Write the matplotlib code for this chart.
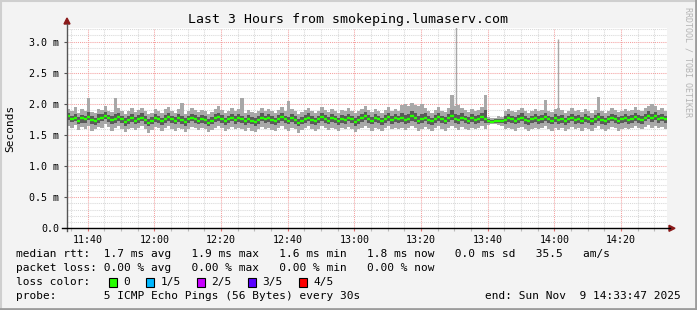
import numpy as np
import matplotlib
matplotlib.use("Agg")
import matplotlib.pyplot as plt
from matplotlib.patches import Rectangle, Polygon
from matplotlib.lines import Line2D

# smokeping data: 5 sorted pings per 1 min step, values in ms
median = [
    1.80, 1.76, 1.78, 1.73, 1.77, 1.75, 1.79, 1.74, 1.72, 1.76,
    1.78, 1.81, 1.77, 1.74, 1.76, 1.79, 1.75, 1.71, 1.74, 1.77,
    1.73, 1.76, 1.78, 1.74, 1.70, 1.73, 1.77, 1.75, 1.72, 1.76,
    1.79, 1.75, 1.73, 1.77, 1.74, 1.71, 1.75, 1.78, 1.76, 1.73,
    1.76, 1.74, 1.70, 1.73, 1.77, 1.79, 1.76, 1.72, 1.75, 1.78,
    1.74, 1.77, 1.75, 1.72, 1.76, 1.73, 1.71, 1.74, 1.78, 1.75,
    1.77, 1.74, 1.72, 1.76, 1.79, 1.75, 1.73, 1.77, 1.74, 1.70,
    1.73, 1.76, 1.78, 1.74, 1.72, 1.75, 1.79, 1.76, 1.73, 1.77,
    1.75, 1.72, 1.76, 1.74, 1.78, 1.75, 1.71, 1.74, 1.77, 1.80,
    1.76, 1.73, 1.77, 1.75, 1.72, 1.76, 1.79, 1.74, 1.77, 1.75,
    1.78, 1.74, 1.76, 1.80, 1.77, 1.73, 1.75, 1.78, 1.74, 1.72,
    1.76, 1.79, 1.75, 1.73, 1.77, 1.80, 1.76, 1.74, 1.78, 1.75,
    1.73, 1.77, 1.74, 1.76, 1.79, 1.75, 1.72, 1.71, 1.72, 1.73,
    1.72, 1.74, 1.77, 1.75, 1.73, 1.76, 1.78, 1.74, 1.72, 1.75,
    1.77, 1.74, 1.76, 1.79, 1.75, 1.73, 1.77, 1.74, 1.76, 1.72,
    1.75, 1.78, 1.74, 1.76, 1.73, 1.77, 1.75, 1.72, 1.76, 1.79,
    1.74, 1.72, 1.75, 1.78, 1.76, 1.73, 1.75, 1.77, 1.74, 1.76,
    1.79, 1.76, 1.74, 1.78, 1.81, 1.77, 1.80, 1.76, 1.78, 1.75]
ping2 = [
    1.74, 1.71, 1.73, 1.68, 1.70, 1.69, 1.74, 1.67, 1.66, 1.70,
    1.72, 1.75, 1.71, 1.68, 1.70, 1.73, 1.69, 1.65, 1.68, 1.71,
    1.67, 1.70, 1.72, 1.68, 1.64, 1.67, 1.71, 1.69, 1.66, 1.70,
    1.73, 1.69, 1.67, 1.71, 1.68, 1.65, 1.69, 1.72, 1.70, 1.67,
    1.70, 1.68, 1.64, 1.67, 1.71, 1.73, 1.70, 1.66, 1.69, 1.72,
    1.68, 1.71, 1.69, 1.66, 1.70, 1.67, 1.65, 1.68, 1.72, 1.69,
    1.71, 1.68, 1.66, 1.70, 1.73, 1.69, 1.67, 1.71, 1.68, 1.64,
    1.67, 1.70, 1.72, 1.68, 1.66, 1.69, 1.73, 1.70, 1.67, 1.71,
    1.69, 1.66, 1.70, 1.68, 1.72, 1.69, 1.65, 1.68, 1.71, 1.74,
    1.70, 1.67, 1.71, 1.69, 1.66, 1.70, 1.73, 1.68, 1.71, 1.69,
    1.71, 1.68, 1.70, 1.73, 1.71, 1.67, 1.69, 1.72, 1.68, 1.66,
    1.70, 1.73, 1.69, 1.67, 1.71, 1.74, 1.70, 1.68, 1.72, 1.69,
    1.67, 1.71, 1.68, 1.70, 1.73, 1.69, 1.69, 1.69, 1.70, 1.70,
    1.69, 1.68, 1.71, 1.69, 1.67, 1.70, 1.72, 1.68, 1.66, 1.69,
    1.71, 1.68, 1.70, 1.73, 1.69, 1.67, 1.71, 1.68, 1.70, 1.66,
    1.69, 1.72, 1.68, 1.70, 1.67, 1.71, 1.69, 1.66, 1.70, 1.73,
    1.68, 1.66, 1.69, 1.72, 1.70, 1.67, 1.69, 1.71, 1.68, 1.70,
    1.73, 1.70, 1.68, 1.72, 1.75, 1.71, 1.74, 1.70, 1.72, 1.69]
ping4 = [
    1.86, 1.81, 1.84, 1.79, 1.82, 1.80, 1.87, 1.80, 1.78, 1.83,
    1.84, 1.87, 1.82, 1.80, 1.83, 1.85, 1.81, 1.77, 1.80, 1.84,
    1.79, 1.82, 1.85, 1.80, 1.76, 1.79, 1.83, 1.81, 1.78, 1.82,
    1.85, 1.81, 1.79, 1.83, 1.80, 1.77, 1.81, 1.84, 1.82, 1.79,
    1.82, 1.80, 1.76, 1.79, 1.83, 1.86, 1.82, 1.78, 1.81, 1.84,
    1.80, 1.83, 1.81, 1.78, 1.82, 1.79, 1.77, 1.80, 1.85, 1.81,
    1.83, 1.80, 1.78, 1.82, 1.86, 1.81, 1.79, 1.83, 1.80, 1.76,
    1.79, 1.82, 1.85, 1.80, 1.78, 1.81, 1.86, 1.82, 1.79, 1.83,
    1.81, 1.78, 1.82, 1.80, 1.84, 1.81, 1.77, 1.80, 1.83, 1.87,
    1.82, 1.79, 1.83, 1.81, 1.78, 1.82, 1.86, 1.80, 1.83, 1.81,
    1.86, 1.82, 1.84, 1.88, 1.85, 1.80, 1.83, 1.86, 1.80, 1.78,
    1.82, 1.86, 1.81, 1.79, 1.84, 1.90, 1.83, 1.82, 1.85, 1.81,
    1.79, 1.83, 1.80, 1.82, 1.86, 1.90, 1.75, 1.74, 1.75, 1.76,
    1.76, 1.80, 1.83, 1.81, 1.79, 1.82, 1.85, 1.80, 1.78, 1.81,
    1.83, 1.80, 1.82, 1.86, 1.81, 1.79, 1.83, 1.81, 1.82, 1.78,
    1.81, 1.84, 1.80, 1.82, 1.79, 1.83, 1.81, 1.78, 1.82, 1.86,
    1.80, 1.78, 1.81, 1.84, 1.82, 1.79, 1.81, 1.83, 1.80, 1.82,
    1.86, 1.82, 1.80, 1.84, 1.88, 1.83, 1.87, 1.82, 1.84, 1.81]
ping1 = [
    1.64, 1.62, 1.66, 1.58, 1.63, 1.60, 1.65, 1.57, 1.59, 1.63,
    1.62, 1.67, 1.63, 1.57, 1.61, 1.64, 1.60, 1.55, 1.60, 1.62,
    1.58, 1.62, 1.64, 1.59, 1.54, 1.58, 1.63, 1.61, 1.57, 1.62,
    1.64, 1.60, 1.57, 1.62, 1.59, 1.55, 1.60, 1.63, 1.61, 1.58,
    1.61, 1.59, 1.55, 1.58, 1.62, 1.65, 1.61, 1.57, 1.60, 1.63,
    1.59, 1.62, 1.60, 1.56, 1.61, 1.57, 1.55, 1.59, 1.63, 1.60,
    1.62, 1.58, 1.56, 1.61, 1.64, 1.60, 1.57, 1.62, 1.59, 1.54,
    1.58, 1.61, 1.64, 1.59, 1.56, 1.60, 1.64, 1.61, 1.58, 1.62,
    1.60, 1.56, 1.61, 1.59, 1.63, 1.60, 1.55, 1.59, 1.62, 1.65,
    1.61, 1.57, 1.62, 1.60, 1.56, 1.61, 1.64, 1.59, 1.62, 1.60,
    1.62, 1.58, 1.61, 1.64, 1.62, 1.57, 1.60, 1.63, 1.59, 1.56,
    1.61, 1.64, 1.60, 1.57, 1.62, 1.65, 1.61, 1.58, 1.63, 1.60,
    1.58, 1.62, 1.59, 1.61, 1.64, 1.60, 1.66, 1.67, 1.67, 1.66,
    1.65, 1.59, 1.62, 1.60, 1.57, 1.61, 1.63, 1.59, 1.56, 1.60,
    1.62, 1.59, 1.61, 1.64, 1.60, 1.57, 1.62, 1.58, 1.61, 1.56,
    1.60, 1.63, 1.59, 1.61, 1.57, 1.62, 1.60, 1.56, 1.61, 1.64,
    1.59, 1.56, 1.60, 1.63, 1.61, 1.57, 1.60, 1.62, 1.59, 1.61,
    1.64, 1.61, 1.59, 1.63, 1.66, 1.62, 1.65, 1.61, 1.63, 1.60]
ping5 = [
    1.92, 1.88, 1.95, 1.86, 1.91, 1.89, 2.09, 1.87, 1.85, 1.92,
    1.90, 1.96, 1.89, 1.87, 2.10, 1.93, 1.88, 1.84, 1.89, 1.94,
    1.87, 1.90, 1.94, 1.88, 1.83, 1.86, 1.92, 1.89, 1.86, 1.91,
    1.95, 1.88, 1.86, 1.92, 2.01, 1.84, 1.89, 1.93, 1.90, 1.87,
    1.90, 1.88, 1.83, 1.87, 1.92, 1.96, 1.90, 1.86, 1.89, 1.93,
    1.88, 1.91, 2.10, 1.86, 1.90, 1.87, 1.85, 1.88, 1.94, 1.89,
    1.91, 1.88, 1.86, 1.90, 1.95, 1.89, 2.05, 1.92, 1.88, 1.83,
    1.87, 1.90, 1.94, 1.88, 1.86, 1.89, 1.95, 1.90, 1.87, 1.92,
    1.89, 1.86, 1.90, 1.88, 1.93, 1.89, 1.85, 1.88, 1.92, 1.97,
    1.90, 1.87, 1.92, 1.89, 1.86, 1.90, 1.95, 1.88, 1.91, 1.89,
    1.98, 2.00, 1.96, 2.01, 1.99, 1.97, 2.00, 1.93, 1.88, 1.86,
    1.90, 1.95, 1.89, 1.87, 1.93, 2.14, 1.96, 1.98, 1.94, 1.90,
    1.87, 1.92, 1.88, 1.90, 1.95, 2.14, 1.79, 1.77, 1.78, 1.80,
    1.79, 1.88, 1.92, 1.89, 1.87, 1.90, 1.94, 1.88, 1.86, 1.89,
    1.92, 1.88, 1.90, 2.06, 1.89, 1.87, 1.92, 1.93, 1.90, 1.86,
    1.89, 1.93, 1.88, 1.90, 1.87, 1.92, 1.89, 1.86, 1.90, 2.11,
    1.88, 1.86, 1.89, 1.93, 1.90, 1.87, 1.89, 1.92, 1.88, 1.90,
    1.95, 1.90, 1.88, 1.93, 1.97, 2.00, 1.96, 1.90, 1.93, 1.89]

# single outlier pings (minutes after 11:33:47, ms)
outlier_t = [116.8, 147.2]
outlier_v = [3.25, 3.05]

loss_labels = ['0', '1/5', '2/5', '3/5', '4/5']
loss_colors = ['#26ff00', '#00b8ff', '#c800ff', '#5a00ff', '#ff0000']

legend_lines = [
    "median rtt:  1.7 ms avg   1.9 ms max   1.6 ms min   1.8 ms now   0.0 ms sd   35.5   am/s",
    "packet loss: 0.00 % avg   0.00 % max   0.00 % min   0.00 % now",
    "loss color:",
    "probe:       5 ICMP Echo Pings (56 Bytes) every 30s",
]
end_text = "end: Sun Nov  9 14:33:47 2025"
title = "Last 3 Hours from smokeping.lumaserv.com"

x_ticks = ['11:40', '12:00', '12:20', '12:40', '13:00', '13:20', '13:40', '14:00', '14:20']
y_ticks = [0.0, 0.5, 1.0, 1.5, 2.0, 2.5, 3.0]

W, H = 697, 310
mono = 'DejaVu Sans Mono'
plt.rcParams['font.family'] = mono


def fx(px):
    return px / W


def fy(py):
    return 1 - py / H


fig = plt.figure(figsize=(W / 100, H / 100), dpi=100, facecolor='#f3f3f3')

# outer border, light on top/left, dark on bottom/right
fig.add_artist(Line2D([0, 1], [fy(0.5), fy(0.5)], color='#cfcfcf', lw=1.5))
fig.add_artist(Line2D([fx(0.5), fx(0.5)], [0, 1], color='#cfcfcf', lw=1.5))
fig.add_artist(Line2D([0, 1], [fy(309), fy(309)], color='#9c9c9c', lw=2))
fig.add_artist(Line2D([fx(696), fx(696)], [0, 1], color='#9c9c9c', lw=2))

ax_l, ax_b, ax_t, ax_r = 67, 228.3, 28, 667
ax = fig.add_axes([fx(ax_l), fy(ax_b), (ax_r - ax_l) / W, (ax_b - ax_t) / H])
ax.set_facecolor('white')

step = 1.0
t = np.arange(len(median)) * step
pings = np.sort(np.array([ping1, ping2, median, ping4, ping5]), axis=0)
tt = np.append(t, t[-1] + step)


def ext(a):
    return np.append(a, a[-1])


ax.fill_between(tt, ext(pings[0]), ext(pings[4]), step='post', color='#a8a8a8', lw=0, zorder=2)
ax.vlines(outlier_t, 1.85, outlier_v, color='#a8a8a8', lw=1.0, zorder=2)
ax.fill_between(tt, ext(pings[1]), ext(pings[3]), step='post', color='#5a5a5a', lw=0, zorder=3)
ax.hlines(pings[2], t, t + step, color=loss_colors[0], lw=1.7, zorder=4)

# time axis: minutes from 11:33:47
t0 = 6 + 13 / 60  # 11:40 is 6m13s after start
ax.set_xlim(0, 180)
ax.set_ylim(0, 3.22)
major_x = t0 + 20 * np.arange(len(x_ticks))
minor_x = np.arange(t0 - 5, 180, 5)
ax.set_xticks(major_x)
ax.set_xticklabels(x_ticks)
ax.set_xticks(minor_x, minor=True)
ax.set_yticks(y_ticks)
ax.set_yticklabels(['0.0'] + ['%.1f m' % v for v in y_ticks[1:]])
ax.set_yticks(np.arange(0.1, 3.22, 0.1), minor=True)

dot = (0, (1, 1))
ax.grid(which='minor', color='#d8d8d8', lw=0.75, ls=dot, zorder=1)
ax.grid(which='major', color='#f4a0a0', lw=0.75, ls=dot, zorder=1)
ax.set_axisbelow(True)

for s in ax.spines.values():
    s.set_visible(False)
ax.tick_params(axis='x', which='major', length=2, width=0.8, color='#e07070',
               direction='out', labelsize=7.2, pad=3)
ax.tick_params(axis='x', which='minor', length=2, width=0.8, color='#bbbbbb', direction='out')
ax.tick_params(axis='y', which='major', length=2, width=0.8, color='#555555',
               direction='out', labelsize=7.2, pad=3.5)
ax.tick_params(axis='y', which='minor', length=0)

# axes with arrows
fig.add_artist(Line2D([fx(ax_l), fx(ax_l)], [fy(ax_b + 3), fy(24)], color='#555555', lw=1))
fig.add_artist(Line2D([fx(62), fx(670)], [fy(ax_b), fy(ax_b)], color='#000000', lw=1))
fig.add_artist(Polygon([[fx(64), fy(24)], [fx(70), fy(24)], [fx(67), fy(18)]],
                       closed=True, color='#8b1a1a'))
fig.add_artist(Polygon([[fx(669), fy(ax_b - 3)], [fx(669), fy(ax_b + 3)], [fx(675), fy(ax_b)]],
                       closed=True, color='#8b1a1a'))

fig.text(fx(348), fy(19.3), title, ha='center', va='center', fontsize=9.5, color='black')
fig.text(fx(10.5), fy(128), 'Seconds', rotation=90, ha='center', va='center', fontsize=8)
fig.text(fx(688), fy(62), 'RRDTOOL / TOBI OETIKER', rotation=270, ha='center', va='center',
         fontsize=6, color='#b4b4b4')

rows_y = [254.3, 268.3, 282.3, 296]
for line, yy in zip(legend_lines, rows_y):
    fig.text(fx(16), fy(yy), line, ha='left', va='center', fontsize=8)
fig.text(fx(681), fy(296), end_text, ha='right', va='center', fontsize=8)

box_x = [108.5, 145.8, 196.8, 247.5, 298.5]
for bx, lab, col in zip(box_x, loss_labels, loss_colors):
    fig.add_artist(Rectangle((fx(bx), fy(rows_y[2] + 4.5)), 8.5 / W, 9 / H,
                             facecolor=col, edgecolor='black', lw=0.8))
    fig.text(fx(bx + 14.5), fy(rows_y[2]), lab, ha='left', va='center', fontsize=8)

fig.savefig('out.png', dpi=100, facecolor=fig.get_facecolor())
